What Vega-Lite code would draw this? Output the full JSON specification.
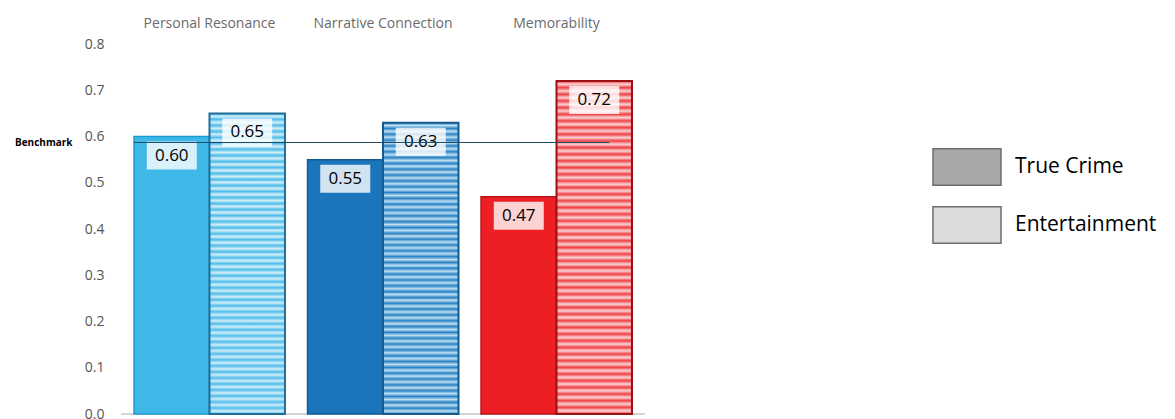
{
  "$schema": "https://vega.github.io/schema/vega-lite/v6.json",
  "width": 524,
  "height": 370,
  "autosize": {"type": "none"},
  "padding": {"left": 121, "top": 44, "right": 530, "bottom": 5},
  "config": {"view": {"stroke": null}, "font": "Open Sans"},
  "layer": [
    {
      "data": {"values": [{"base": 0}]},
      "mark": {"type": "rule", "color": "#d4d4d4", "strokeWidth": 2},
      "encoding": {
        "y": {"field": "base", "type": "quantitative", "scale": {"domain": [0, 0.8], "nice": false}, "axis": null}
      }
    },
    {
      "data": {
        "values": [
          {"category": "Personal Resonance", "series": "True Crime", "value": 0.60},
          {"category": "Personal Resonance", "series": "Entertainment", "value": 0.65},
          {"category": "Narrative Connection", "series": "True Crime", "value": 0.55},
          {"category": "Narrative Connection", "series": "Entertainment", "value": 0.63},
          {"category": "Memorability", "series": "True Crime", "value": 0.47},
          {"category": "Memorability", "series": "Entertainment", "value": 0.72}
        ]
      },
      "encoding": {
        "x": {
          "field": "category",
          "type": "nominal",
          "scale": {"domain": ["Personal Resonance", "Narrative Connection", "Memorability"], "paddingInner": 0.13, "paddingOuter": 0.075},
          "axis": {"orient": "top", "title": null, "domain": false, "ticks": false, "labelAngle": 0, "labelPadding": 14, "labelFontSize": 14, "labelColor": "#6b6b6b"}
        },
        "xOffset": {
          "field": "series",
          "type": "nominal",
          "scale": {"domain": ["True Crime", "Entertainment"], "paddingInner": 0, "paddingOuter": 0}
        },
        "y": {
          "field": "value",
          "type": "quantitative",
          "scale": {"domain": [0, 0.8], "nice": false},
          "axis": {"title": null, "domain": false, "ticks": false, "grid": false, "values": [0, 0.1, 0.2, 0.3, 0.4, 0.5, 0.6, 0.7, 0.8], "format": ".1f", "labelPadding": 17, "labelFontSize": 14, "labelColor": "#555555"}
        }
      },
      "layer": [
        {
          "transform": [{"filter": "datum.series === 'True Crime'"}],
          "mark": {"type": "bar", "strokeWidth": 1.5},
          "encoding": {
            "fill": {"field": "category", "type": "nominal", "scale": {"domain": ["Personal Resonance", "Narrative Connection", "Memorability"], "range": ["#3fb8e8", "#1b75bb", "#ed1f24"]}, "legend": null},
            "stroke": {"field": "category", "type": "nominal", "scale": {"domain": ["Personal Resonance", "Narrative Connection", "Memorability"], "range": ["#1d9ad0", "#125c96", "#b8151a"]}, "legend": null}
          }
        },
        {
          "transform": [{"filter": "datum.series === 'Entertainment' && datum.category === 'Personal Resonance'"}],
          "mark": {
            "type": "bar", "strokeWidth": 2, "stroke": "#1f6f98",
            "fill": {"gradient": "linear", "x1": 0, "y1": 0, "x2": 0, "y2": 1, "stops": [
              {"offset": 0, "color": "#4fbdea"}, {"offset": 0.01, "color": "#d2eefa"}, {"offset": 0.02, "color": "#4fbdea"}, {"offset": 0.03, "color": "#d2eefa"}, {"offset": 0.04, "color": "#4fbdea"}, {"offset": 0.05, "color": "#d2eefa"}, {"offset": 0.06, "color": "#4fbdea"}, {"offset": 0.07, "color": "#d2eefa"}, {"offset": 0.08, "color": "#4fbdea"}, {"offset": 0.09, "color": "#d2eefa"},
              {"offset": 0.1, "color": "#4fbdea"}, {"offset": 0.11, "color": "#d2eefa"}, {"offset": 0.12, "color": "#4fbdea"}, {"offset": 0.13, "color": "#d2eefa"}, {"offset": 0.14, "color": "#4fbdea"}, {"offset": 0.15, "color": "#d2eefa"}, {"offset": 0.16, "color": "#4fbdea"}, {"offset": 0.17, "color": "#d2eefa"}, {"offset": 0.18, "color": "#4fbdea"}, {"offset": 0.19, "color": "#d2eefa"},
              {"offset": 0.2, "color": "#4fbdea"}, {"offset": 0.21, "color": "#d2eefa"}, {"offset": 0.22, "color": "#4fbdea"}, {"offset": 0.23, "color": "#d2eefa"}, {"offset": 0.24, "color": "#4fbdea"}, {"offset": 0.25, "color": "#d2eefa"}, {"offset": 0.26, "color": "#4fbdea"}, {"offset": 0.27, "color": "#d2eefa"}, {"offset": 0.28, "color": "#4fbdea"}, {"offset": 0.29, "color": "#d2eefa"},
              {"offset": 0.3, "color": "#4fbdea"}, {"offset": 0.31, "color": "#d2eefa"}, {"offset": 0.32, "color": "#4fbdea"}, {"offset": 0.33, "color": "#d2eefa"}, {"offset": 0.34, "color": "#4fbdea"}, {"offset": 0.35, "color": "#d2eefa"}, {"offset": 0.36, "color": "#4fbdea"}, {"offset": 0.37, "color": "#d2eefa"}, {"offset": 0.38, "color": "#4fbdea"}, {"offset": 0.39, "color": "#d2eefa"},
              {"offset": 0.4, "color": "#4fbdea"}, {"offset": 0.41, "color": "#d2eefa"}, {"offset": 0.42, "color": "#4fbdea"}, {"offset": 0.43, "color": "#d2eefa"}, {"offset": 0.44, "color": "#4fbdea"}, {"offset": 0.45, "color": "#d2eefa"}, {"offset": 0.46, "color": "#4fbdea"}, {"offset": 0.47, "color": "#d2eefa"}, {"offset": 0.48, "color": "#4fbdea"}, {"offset": 0.49, "color": "#d2eefa"},
              {"offset": 0.5, "color": "#4fbdea"}, {"offset": 0.51, "color": "#d2eefa"}, {"offset": 0.52, "color": "#4fbdea"}, {"offset": 0.53, "color": "#d2eefa"}, {"offset": 0.54, "color": "#4fbdea"}, {"offset": 0.55, "color": "#d2eefa"}, {"offset": 0.56, "color": "#4fbdea"}, {"offset": 0.57, "color": "#d2eefa"}, {"offset": 0.58, "color": "#4fbdea"}, {"offset": 0.59, "color": "#d2eefa"},
              {"offset": 0.6, "color": "#4fbdea"}, {"offset": 0.61, "color": "#d2eefa"}, {"offset": 0.62, "color": "#4fbdea"}, {"offset": 0.63, "color": "#d2eefa"}, {"offset": 0.64, "color": "#4fbdea"}, {"offset": 0.65, "color": "#d2eefa"}, {"offset": 0.66, "color": "#4fbdea"}, {"offset": 0.67, "color": "#d2eefa"}, {"offset": 0.68, "color": "#4fbdea"}, {"offset": 0.69, "color": "#d2eefa"},
              {"offset": 0.7, "color": "#4fbdea"}, {"offset": 0.71, "color": "#d2eefa"}, {"offset": 0.72, "color": "#4fbdea"}, {"offset": 0.73, "color": "#d2eefa"}, {"offset": 0.74, "color": "#4fbdea"}, {"offset": 0.75, "color": "#d2eefa"}, {"offset": 0.76, "color": "#4fbdea"}, {"offset": 0.77, "color": "#d2eefa"}, {"offset": 0.78, "color": "#4fbdea"}, {"offset": 0.79, "color": "#d2eefa"},
              {"offset": 0.8, "color": "#4fbdea"}, {"offset": 0.81, "color": "#d2eefa"}, {"offset": 0.82, "color": "#4fbdea"}, {"offset": 0.83, "color": "#d2eefa"}, {"offset": 0.84, "color": "#4fbdea"}, {"offset": 0.85, "color": "#d2eefa"}, {"offset": 0.86, "color": "#4fbdea"}, {"offset": 0.87, "color": "#d2eefa"}, {"offset": 0.88, "color": "#4fbdea"}, {"offset": 0.89, "color": "#d2eefa"},
              {"offset": 0.9, "color": "#4fbdea"}, {"offset": 0.91, "color": "#d2eefa"}, {"offset": 0.92, "color": "#4fbdea"}, {"offset": 0.93, "color": "#d2eefa"}, {"offset": 0.94, "color": "#4fbdea"}, {"offset": 0.95, "color": "#d2eefa"}, {"offset": 0.96, "color": "#4fbdea"}, {"offset": 0.97, "color": "#d2eefa"}, {"offset": 0.98, "color": "#4fbdea"}, {"offset": 0.99, "color": "#d2eefa"},
              {"offset": 1, "color": "#4fbdea"}
            ]}
          }
        },
        {
          "transform": [{"filter": "datum.series === 'Entertainment' && datum.category === 'Narrative Connection'"}],
          "mark": {
            "type": "bar", "strokeWidth": 2, "stroke": "#155a8e",
            "fill": {"gradient": "linear", "x1": 0, "y1": 0, "x2": 0, "y2": 1, "stops": [
              {"offset": 0, "color": "#2a82c4"}, {"offset": 0.01, "color": "#bcdff3"}, {"offset": 0.02, "color": "#2a82c4"}, {"offset": 0.03, "color": "#bcdff3"}, {"offset": 0.04, "color": "#2a82c4"}, {"offset": 0.05, "color": "#bcdff3"}, {"offset": 0.06, "color": "#2a82c4"}, {"offset": 0.07, "color": "#bcdff3"}, {"offset": 0.08, "color": "#2a82c4"}, {"offset": 0.09, "color": "#bcdff3"},
              {"offset": 0.1, "color": "#2a82c4"}, {"offset": 0.11, "color": "#bcdff3"}, {"offset": 0.12, "color": "#2a82c4"}, {"offset": 0.13, "color": "#bcdff3"}, {"offset": 0.14, "color": "#2a82c4"}, {"offset": 0.15, "color": "#bcdff3"}, {"offset": 0.16, "color": "#2a82c4"}, {"offset": 0.17, "color": "#bcdff3"}, {"offset": 0.18, "color": "#2a82c4"}, {"offset": 0.19, "color": "#bcdff3"},
              {"offset": 0.2, "color": "#2a82c4"}, {"offset": 0.21, "color": "#bcdff3"}, {"offset": 0.22, "color": "#2a82c4"}, {"offset": 0.23, "color": "#bcdff3"}, {"offset": 0.24, "color": "#2a82c4"}, {"offset": 0.25, "color": "#bcdff3"}, {"offset": 0.26, "color": "#2a82c4"}, {"offset": 0.27, "color": "#bcdff3"}, {"offset": 0.28, "color": "#2a82c4"}, {"offset": 0.29, "color": "#bcdff3"},
              {"offset": 0.3, "color": "#2a82c4"}, {"offset": 0.31, "color": "#bcdff3"}, {"offset": 0.32, "color": "#2a82c4"}, {"offset": 0.33, "color": "#bcdff3"}, {"offset": 0.34, "color": "#2a82c4"}, {"offset": 0.35, "color": "#bcdff3"}, {"offset": 0.36, "color": "#2a82c4"}, {"offset": 0.37, "color": "#bcdff3"}, {"offset": 0.38, "color": "#2a82c4"}, {"offset": 0.39, "color": "#bcdff3"},
              {"offset": 0.4, "color": "#2a82c4"}, {"offset": 0.41, "color": "#bcdff3"}, {"offset": 0.42, "color": "#2a82c4"}, {"offset": 0.43, "color": "#bcdff3"}, {"offset": 0.44, "color": "#2a82c4"}, {"offset": 0.45, "color": "#bcdff3"}, {"offset": 0.46, "color": "#2a82c4"}, {"offset": 0.47, "color": "#bcdff3"}, {"offset": 0.48, "color": "#2a82c4"}, {"offset": 0.49, "color": "#bcdff3"},
              {"offset": 0.5, "color": "#2a82c4"}, {"offset": 0.51, "color": "#bcdff3"}, {"offset": 0.52, "color": "#2a82c4"}, {"offset": 0.53, "color": "#bcdff3"}, {"offset": 0.54, "color": "#2a82c4"}, {"offset": 0.55, "color": "#bcdff3"}, {"offset": 0.56, "color": "#2a82c4"}, {"offset": 0.57, "color": "#bcdff3"}, {"offset": 0.58, "color": "#2a82c4"}, {"offset": 0.59, "color": "#bcdff3"},
              {"offset": 0.6, "color": "#2a82c4"}, {"offset": 0.61, "color": "#bcdff3"}, {"offset": 0.62, "color": "#2a82c4"}, {"offset": 0.63, "color": "#bcdff3"}, {"offset": 0.64, "color": "#2a82c4"}, {"offset": 0.65, "color": "#bcdff3"}, {"offset": 0.66, "color": "#2a82c4"}, {"offset": 0.67, "color": "#bcdff3"}, {"offset": 0.68, "color": "#2a82c4"}, {"offset": 0.69, "color": "#bcdff3"},
              {"offset": 0.7, "color": "#2a82c4"}, {"offset": 0.71, "color": "#bcdff3"}, {"offset": 0.72, "color": "#2a82c4"}, {"offset": 0.73, "color": "#bcdff3"}, {"offset": 0.74, "color": "#2a82c4"}, {"offset": 0.75, "color": "#bcdff3"}, {"offset": 0.76, "color": "#2a82c4"}, {"offset": 0.77, "color": "#bcdff3"}, {"offset": 0.78, "color": "#2a82c4"}, {"offset": 0.79, "color": "#bcdff3"},
              {"offset": 0.8, "color": "#2a82c4"}, {"offset": 0.81, "color": "#bcdff3"}, {"offset": 0.82, "color": "#2a82c4"}, {"offset": 0.83, "color": "#bcdff3"}, {"offset": 0.84, "color": "#2a82c4"}, {"offset": 0.85, "color": "#bcdff3"}, {"offset": 0.86, "color": "#2a82c4"}, {"offset": 0.87, "color": "#bcdff3"}, {"offset": 0.88, "color": "#2a82c4"}, {"offset": 0.89, "color": "#bcdff3"},
              {"offset": 0.9, "color": "#2a82c4"}, {"offset": 0.91, "color": "#bcdff3"}, {"offset": 0.92, "color": "#2a82c4"}, {"offset": 0.93, "color": "#bcdff3"}, {"offset": 0.94, "color": "#2a82c4"}, {"offset": 0.95, "color": "#bcdff3"}, {"offset": 0.96, "color": "#2a82c4"}, {"offset": 0.97, "color": "#bcdff3"}, {"offset": 0.98, "color": "#2a82c4"}, {"offset": 0.99, "color": "#bcdff3"},
              {"offset": 1, "color": "#2a82c4"}
            ]}
          }
        },
        {
          "transform": [{"filter": "datum.series === 'Entertainment' && datum.category === 'Memorability'"}],
          "mark": {
            "type": "bar", "strokeWidth": 2, "stroke": "#9c1014",
            "fill": {"gradient": "linear", "x1": 0, "y1": 0, "x2": 0, "y2": 1, "stops": [
              {"offset": 0, "color": "#ef4145"}, {"offset": 0.01, "color": "#fbd3d4"}, {"offset": 0.02, "color": "#ef4145"}, {"offset": 0.03, "color": "#fbd3d4"}, {"offset": 0.04, "color": "#ef4145"}, {"offset": 0.05, "color": "#fbd3d4"}, {"offset": 0.06, "color": "#ef4145"}, {"offset": 0.07, "color": "#fbd3d4"}, {"offset": 0.08, "color": "#ef4145"}, {"offset": 0.09, "color": "#fbd3d4"},
              {"offset": 0.1, "color": "#ef4145"}, {"offset": 0.11, "color": "#fbd3d4"}, {"offset": 0.12, "color": "#ef4145"}, {"offset": 0.13, "color": "#fbd3d4"}, {"offset": 0.14, "color": "#ef4145"}, {"offset": 0.15, "color": "#fbd3d4"}, {"offset": 0.16, "color": "#ef4145"}, {"offset": 0.17, "color": "#fbd3d4"}, {"offset": 0.18, "color": "#ef4145"}, {"offset": 0.19, "color": "#fbd3d4"},
              {"offset": 0.2, "color": "#ef4145"}, {"offset": 0.21, "color": "#fbd3d4"}, {"offset": 0.22, "color": "#ef4145"}, {"offset": 0.23, "color": "#fbd3d4"}, {"offset": 0.24, "color": "#ef4145"}, {"offset": 0.25, "color": "#fbd3d4"}, {"offset": 0.26, "color": "#ef4145"}, {"offset": 0.27, "color": "#fbd3d4"}, {"offset": 0.28, "color": "#ef4145"}, {"offset": 0.29, "color": "#fbd3d4"},
              {"offset": 0.3, "color": "#ef4145"}, {"offset": 0.31, "color": "#fbd3d4"}, {"offset": 0.32, "color": "#ef4145"}, {"offset": 0.33, "color": "#fbd3d4"}, {"offset": 0.34, "color": "#ef4145"}, {"offset": 0.35, "color": "#fbd3d4"}, {"offset": 0.36, "color": "#ef4145"}, {"offset": 0.37, "color": "#fbd3d4"}, {"offset": 0.38, "color": "#ef4145"}, {"offset": 0.39, "color": "#fbd3d4"},
              {"offset": 0.4, "color": "#ef4145"}, {"offset": 0.41, "color": "#fbd3d4"}, {"offset": 0.42, "color": "#ef4145"}, {"offset": 0.43, "color": "#fbd3d4"}, {"offset": 0.44, "color": "#ef4145"}, {"offset": 0.45, "color": "#fbd3d4"}, {"offset": 0.46, "color": "#ef4145"}, {"offset": 0.47, "color": "#fbd3d4"}, {"offset": 0.48, "color": "#ef4145"}, {"offset": 0.49, "color": "#fbd3d4"},
              {"offset": 0.5, "color": "#ef4145"}, {"offset": 0.51, "color": "#fbd3d4"}, {"offset": 0.52, "color": "#ef4145"}, {"offset": 0.53, "color": "#fbd3d4"}, {"offset": 0.54, "color": "#ef4145"}, {"offset": 0.55, "color": "#fbd3d4"}, {"offset": 0.56, "color": "#ef4145"}, {"offset": 0.57, "color": "#fbd3d4"}, {"offset": 0.58, "color": "#ef4145"}, {"offset": 0.59, "color": "#fbd3d4"},
              {"offset": 0.6, "color": "#ef4145"}, {"offset": 0.61, "color": "#fbd3d4"}, {"offset": 0.62, "color": "#ef4145"}, {"offset": 0.63, "color": "#fbd3d4"}, {"offset": 0.64, "color": "#ef4145"}, {"offset": 0.65, "color": "#fbd3d4"}, {"offset": 0.66, "color": "#ef4145"}, {"offset": 0.67, "color": "#fbd3d4"}, {"offset": 0.68, "color": "#ef4145"}, {"offset": 0.69, "color": "#fbd3d4"},
              {"offset": 0.7, "color": "#ef4145"}, {"offset": 0.71, "color": "#fbd3d4"}, {"offset": 0.72, "color": "#ef4145"}, {"offset": 0.73, "color": "#fbd3d4"}, {"offset": 0.74, "color": "#ef4145"}, {"offset": 0.75, "color": "#fbd3d4"}, {"offset": 0.76, "color": "#ef4145"}, {"offset": 0.77, "color": "#fbd3d4"}, {"offset": 0.78, "color": "#ef4145"}, {"offset": 0.79, "color": "#fbd3d4"},
              {"offset": 0.8, "color": "#ef4145"}, {"offset": 0.81, "color": "#fbd3d4"}, {"offset": 0.82, "color": "#ef4145"}, {"offset": 0.83, "color": "#fbd3d4"}, {"offset": 0.84, "color": "#ef4145"}, {"offset": 0.85, "color": "#fbd3d4"}, {"offset": 0.86, "color": "#ef4145"}, {"offset": 0.87, "color": "#fbd3d4"}, {"offset": 0.88, "color": "#ef4145"}, {"offset": 0.89, "color": "#fbd3d4"},
              {"offset": 0.9, "color": "#ef4145"}, {"offset": 0.91, "color": "#fbd3d4"}, {"offset": 0.92, "color": "#ef4145"}, {"offset": 0.93, "color": "#fbd3d4"}, {"offset": 0.94, "color": "#ef4145"}, {"offset": 0.95, "color": "#fbd3d4"}, {"offset": 0.96, "color": "#ef4145"}, {"offset": 0.97, "color": "#fbd3d4"}, {"offset": 0.98, "color": "#ef4145"}, {"offset": 0.99, "color": "#fbd3d4"},
              {"offset": 1, "color": "#ef4145"}
            ]}
          }
        },
        {
          "transform": [{"filter": "false"}],
          "mark": {"type": "bar"},
          "encoding": {
            "fill": {
              "field": "series",
              "type": "nominal",
              "scale": {"domain": ["True Crime", "Entertainment"], "range": ["#a8a8a8", "#dcdcdc"]},
              "legend": {
                "title": null,
                "orient": "none",
                "legendX": 811,
                "legendY": 88,
                "padding": 0,
                "symbolType": "M-1,-0.54L1,-0.54L1,0.54L-1,0.54Z",
                "symbolSize": 4624,
                "symbolStrokeColor": "#6e6e6e",
                "symbolStrokeWidth": 1.5,
                "symbolOpacity": 1,
                "labelFontSize": 21,
                "labelColor": "#000000",
                "labelOffset": 13,
                "labelLimit": 300,
                "rowPadding": 1
              }
            }
          }
        },
        {
          "mark": {"type": "point", "shape": "M-1,-0.56L1,-0.56L1,0.56L-1,0.56Z", "size": 2500, "filled": true, "color": "#ffffff", "opacity": 0.8, "strokeWidth": 0, "yOffset": 19}
        },
        {
          "mark": {"type": "text", "fontSize": 17, "color": "#000000", "baseline": "middle", "yOffset": 19},
          "encoding": {"text": {"field": "value", "type": "quantitative", "format": ".2f"}}
        }
      ],
      "resolve": {"scale": {"fill": "independent", "stroke": "independent"}}
    },
    {
      "data": {"values": [{"benchmark": 0.587}]},
      "mark": {"type": "rule", "color": "#1f4d68", "strokeWidth": 1},
      "encoding": {
        "x": {"datum": "Personal Resonance", "type": "nominal", "bandPosition": 0, "scale": {"domain": ["Personal Resonance", "Narrative Connection", "Memorability"]}},
        "x2": {"datum": "Memorability", "bandPosition": 0.85},
        "y": {
          "field": "benchmark",
          "type": "quantitative",
          "scale": {"domain": [0, 0.8], "nice": false},
          "axis": {"orient": "left", "title": null, "values": [0.587], "labelExpr": "'Benchmark'", "domain": false, "ticks": false, "grid": false, "labelFontSize": 10, "labelFontWeight": "bold", "labelColor": "#000000", "labelPadding": 4, "offset": 45}
        }
      }
    }
  ],
  "resolve": {"scale": {"y": "independent"}, "axis": {"y": "independent"}}
}
